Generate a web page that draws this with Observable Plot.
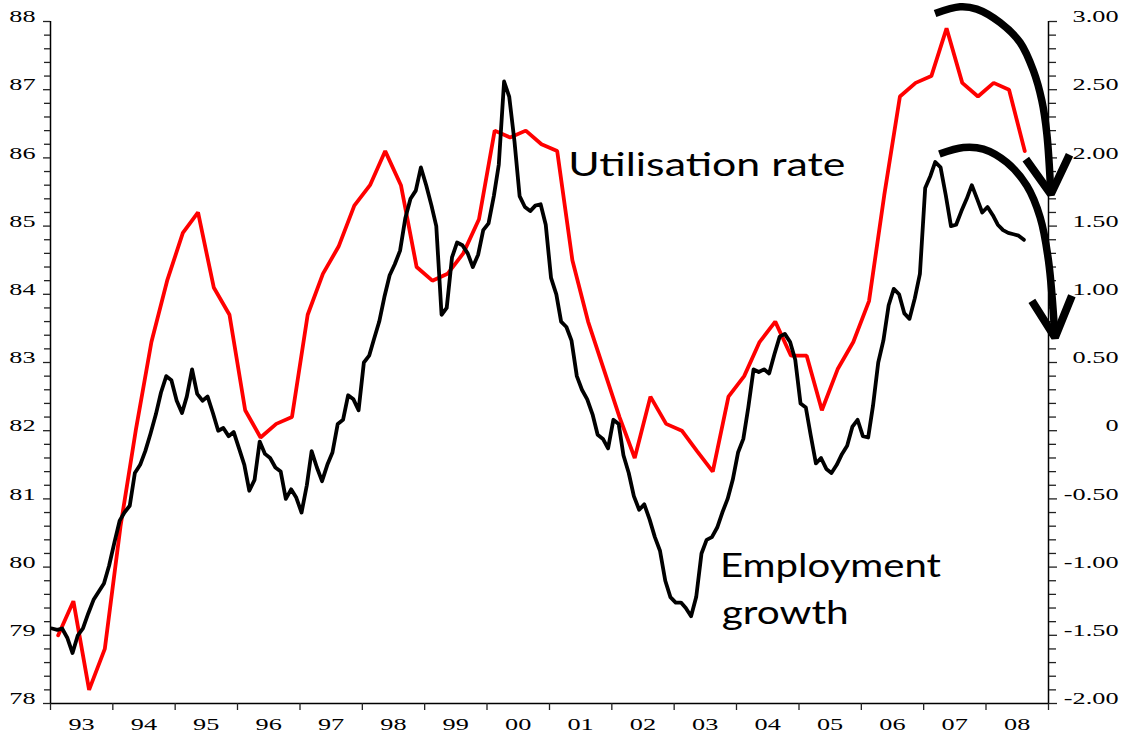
<!DOCTYPE html>
<html>
<head>
<meta charset="utf-8">
<script src="https://cdn.jsdelivr.net/npm/d3@7"></script>
<script src="https://cdn.jsdelivr.net/npm/@observablehq/plot@0.6"></script>
<style>
html, body { margin: 0; padding: 0; background: #fff; overflow: hidden; }
</style>
</head>
<body>
<div id="chart"></div>
<script>
// ---- Data ----
const yearLabels = ["93","94","95","96","97","98","99","00","01","02","03","04","05","06","07","08"];

// Capacity utilisation rate (left axis), quarterly from 1993 Q1
const utilisationRate = [
  79.0, 79.5, 78.2, 78.8, 80.6, 82.0, 83.3, 84.2, 84.9, 85.2, 84.1, 83.7,
  82.3, 81.9, 82.1, 82.2, 83.7, 84.3, 84.7, 85.3, 85.6, 86.1, 85.6, 84.4,
  84.2, 84.3, 84.6, 85.1, 86.4, 86.3, 86.4, 86.2, 86.1, 84.5, 83.6, 82.9,
  82.2, 81.6, 82.5, 82.1, 82.0, 81.7, 81.4, 82.5, 82.8, 83.3, 83.6, 83.1,
  83.1, 82.3, 82.9, 83.3, 83.9, 85.45, 86.9, 87.1, 87.2, 87.9, 87.1, 86.9,
  87.1, 87.0, 86.1
];

// Employment growth (right axis), monthly from Jan 1993
const employmentGrowth = [
  -1.45,-1.46,-1.45,-1.52,-1.63,-1.50,-1.45,-1.34,-1.24,-1.18,-1.12,-0.99,
  -0.82,-0.66,-0.60,-0.55,-0.31,-0.25,-0.15,-0.02, 0.12, 0.28, 0.40, 0.37,
   0.22, 0.13, 0.25, 0.45, 0.27, 0.22, 0.25, 0.13, 0.00, 0.02,-0.04,-0.01,
  -0.13,-0.25,-0.44,-0.36,-0.08,-0.17,-0.20,-0.27,-0.30,-0.50,-0.43,-0.49,
  -0.60,-0.40,-0.15,-0.27,-0.37,-0.25,-0.16, 0.05, 0.08, 0.26, 0.23, 0.15,
   0.50, 0.55, 0.67, 0.80, 0.98, 1.14, 1.22, 1.32, 1.56, 1.70, 1.76, 1.93,
   1.80, 1.65, 1.50, 0.85, 0.90, 1.27, 1.38, 1.36, 1.30, 1.20, 1.29, 1.47,
   1.52, 1.72, 1.95, 2.56, 2.45, 2.12, 1.72, 1.64, 1.61, 1.65, 1.66, 1.51,
   1.12, 1.00, 0.80, 0.76, 0.66, 0.40, 0.30, 0.23, 0.12,-0.03,-0.06,-0.13,
   0.08, 0.05,-0.18,-0.31,-0.48,-0.58,-0.54,-0.65,-0.78,-0.88,-1.10,-1.22,
  -1.26,-1.26,-1.30,-1.36,-1.22,-0.90,-0.80,-0.78,-0.71,-0.60,-0.50,-0.36,
  -0.16,-0.06, 0.17, 0.45, 0.43, 0.45, 0.42, 0.56, 0.69, 0.71, 0.65, 0.52,
   0.20, 0.17,-0.03,-0.24,-0.20,-0.28,-0.31,-0.25,-0.17,-0.11, 0.03, 0.08,
  -0.04,-0.05, 0.18, 0.50, 0.66, 0.92, 1.04, 1.00, 0.86, 0.82, 0.97, 1.15,
   1.78, 1.87, 1.97, 1.93, 1.73, 1.50, 1.51, 1.61, 1.70, 1.80, 1.70, 1.60,
   1.64, 1.58, 1.51, 1.47, 1.45, 1.44, 1.43, 1.40
];

const leftTickValues = [78, 79, 80, 81, 82, 83, 84, 85, 86, 87, 88];
const rightTickValues = [3, 2.5, 2, 1.5, 1, 0.5, 0, -0.5, -1, -1.5, -2];
const rightTickLabels = ["3.00","2.50","2.00","1.50","1.00","0.50","0","-0.50","-1.00","-1.50","-2.00"];

const annotationTexts = ["Utilisation rate", "Employment", "growth"];

// Hand-drawn arrows, as (decimal year, left-axis value)
const arrowUpperShaft = [[2007.183,88.117],[2007.584,88.216],[2007.852,88.182],[2008.225,87.985],[2008.546,87.692],[2008.759,87.277],[2008.894,86.837],[2008.974,86.349],[2009.038,85.469]];
const arrowUpperHead  = [[2008.637,85.982],[2009.038,85.469],[2009.337,86.045]];
const arrowLowerShaft = [[2007.252,86.056],[2007.637,86.153],[2007.958,86.129],[2008.333,85.933],[2008.654,85.591],[2008.867,85.126],[2009.0,84.491],[2009.104,83.367]];
const arrowLowerHead  = [[2008.734,83.905],[2009.104,83.367],[2009.375,83.978]];

// ---- Helpers ----
const toLeft = v => 78 + (v + 2) * 2;   // right axis (-2..3) -> left axis (78..88)
const yearToDate = y => {
  const yr = Math.floor(y), f = y - yr;
  const a = Date.UTC(yr, 0, 1), b = Date.UTC(yr + 1, 0, 1);
  return new Date(a + f * (b - a));
};

const redRows = utilisationRate.map((v, k) => ({date: new Date(Date.UTC(1993, 3 * k + 1, 15)), value: v}));
const blackRows = employmentGrowth.map((v, m) => ({date: new Date(Date.UTC(1993, m, 10)), value: toLeft(v)}));
const arrowRows = pts => pts.map(([y, v]) => ({date: yearToDate(y), value: v}));

const x0 = new Date(Date.UTC(1993, 0, 1));
const x1 = new Date(Date.UTC(2009, 0, 1));
const yearStarts = d3.range(1993, 2010).map(y => new Date(Date.UTC(y, 0, 1)));
const yearMids = yearLabels.map((_, i) => new Date(Date.UTC(1993 + i, 6, 2)));
const yearLabelMap = new Map(yearMids.map((d, i) => [+d, yearLabels[i]]));
const rightLabelMap = new Map(rightTickValues.map((v, i) => [toLeft(v), rightTickLabels[i]]));

const allTickPos = d3.range(0, 51).map(i => Math.round((78 + i * 0.2) * 10) / 10);
const minorPos = allTickPos.filter(v => !Number.isInteger(v));

const annotationRows = [
  {date: yearToDate(2001.302), value: 85.74, text: annotationTexts[0]},
  {date: yearToDate(2003.735), value: 79.85, text: annotationTexts[1]},
  {date: yearToDate(2003.762), value: 79.165, text: annotationTexts[2]}
];
const annotationWidths = new Map([[annotationTexts[0], 277], [annotationTexts[1], 221], [annotationTexts[2], 127]]);

const serif = "'Liberation Serif', 'Times New Roman', serif";

const chart = Plot.plot({
  width: 1122,
  height: 734,
  marginLeft: 50,
  marginRight: 74,
  marginTop: 21,
  marginBottom: 31,
  style: {background: "#fff", color: "#000", fontFamily: serif, fontSize: "17.5px"},
  x: {type: "utc", domain: [x0, x1], label: null},
  y: {domain: [78, 88], label: null},
  marks: [
    // axis lines
    Plot.ruleX([x0, x1], {stroke: "#000", strokeWidth: 1.5}),
    Plot.ruleY([78], {stroke: "#000", strokeWidth: 1.5}),
    // left ticks
    Plot.axisY(minorPos, {anchor: "left", tickSize: 6, fill: "none", stroke: "#222", strokeWidth: 1.3, label: null}),
    Plot.axisY(leftTickValues, {anchor: "left", tickSize: 7, fill: "none", stroke: "#222", strokeWidth: 1.3, label: null}),
    Plot.axisY(leftTickValues, {anchor: "left", tickSize: 0, tickPadding: 15, dy: -5, fontSize: 17.5, fontFamily: serif, fill: "#000", tickFormat: d => String(d), label: null}),
    // right ticks
    Plot.axisY(minorPos, {anchor: "right", tickSize: 7, fill: "none", stroke: "#222", strokeWidth: 1.3, label: null}),
    Plot.axisY(rightTickValues.map(toLeft), {anchor: "right", tickSize: 8, fill: "none", stroke: "#222", strokeWidth: 1.3, label: null}),
    Plot.axisY(rightTickValues.map(toLeft), {anchor: "right", tickSize: 0, tickPadding: 70, textAnchor: "end", dy: -5, fontSize: 17.5, fontFamily: serif, fill: "#000", tickFormat: d => rightLabelMap.get(d), label: null}),
    // x ticks and labels
    Plot.axisX(yearStarts, {anchor: "bottom", tickSize: 7, fill: "none", stroke: "#222", strokeWidth: 1.3, label: null}),
    Plot.axisX(yearMids, {anchor: "bottom", tickSize: 0, tickPadding: 14, fontSize: 17.5, fontFamily: serif, fill: "#000", tickFormat: d => yearLabelMap.get(+d), label: null}),
    // series
    Plot.line(redRows, {x: "date", y: "value", stroke: "#ff0000", strokeWidth: 3.8, strokeLinejoin: "miter"}),
    Plot.line(blackRows, {x: "date", y: "value", stroke: "#000", strokeWidth: 3.8, strokeLinejoin: "round"}),
    // hand-drawn arrows
    Plot.line(arrowRows(arrowUpperShaft), {x: "date", y: "value", curve: "catmull-rom", stroke: "#000", strokeWidth: 7.5, strokeLinecap: "butt"}),
    Plot.line(arrowRows(arrowUpperHead), {x: "date", y: "value", stroke: "#000", strokeWidth: 8, strokeLinecap: "butt", strokeLinejoin: "miter"}),
    Plot.line(arrowRows(arrowLowerShaft), {x: "date", y: "value", curve: "catmull-rom", stroke: "#000", strokeWidth: 7.5, strokeLinecap: "butt"}),
    Plot.line(arrowRows(arrowLowerHead), {x: "date", y: "value", stroke: "#000", strokeWidth: 8, strokeLinecap: "butt", strokeLinejoin: "miter"}),
    // annotations
    Plot.text(annotationRows, {x: "date", y: "value", text: "text", textAnchor: "start", lineAnchor: "bottom", fontFamily: "Lato, 'Noto Sans', sans-serif", fontSize: 32, fill: "#000"})
  ]
});

document.getElementById("chart").append(chart);

// Stretch text horizontally to match the wide lettering of the original
chart.querySelectorAll("text").forEach(t => {
  const s = t.textContent;
  if (!s) return;
  const w = t.getComputedTextLength();
  if (!w) return;
  const target = annotationWidths.has(s) ? annotationWidths.get(s) : w * 1.5;
  t.setAttribute("textLength", target);
  t.setAttribute("lengthAdjust", "spacingAndGlyphs");
});
</script>
</body>
</html>
